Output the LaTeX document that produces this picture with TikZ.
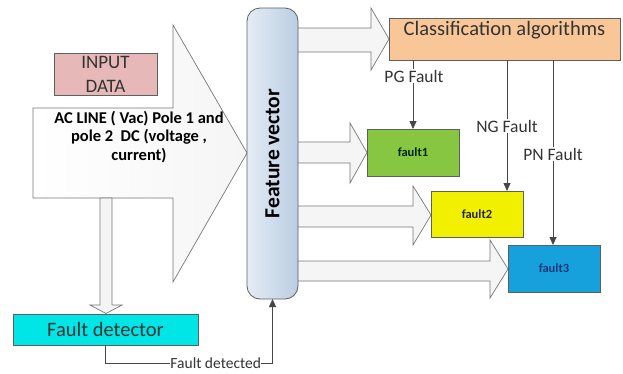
\documentclass[tikz,border=0pt]{standalone}
\usepackage{fontspec}
\setmainfont{Carlito}
\usetikzlibrary{arrows.meta,calc}
\definecolor{inpink}{RGB}{230,184,183}
\definecolor{clsorange}{RGB}{249,198,152}
\definecolor{fgreen}{RGB}{134,198,64}
\definecolor{fyellow}{RGB}{240,240,0}
\definecolor{fblue}{RGB}{22,160,220}
\definecolor{fcyan}{RGB}{0,230,230}
\definecolor{fvlight}{RGB}{228,236,245}
\definecolor{fvdark}{RGB}{186,205,226}
\definecolor{edgegray}{RGB}{95,95,95}
\definecolor{arrgray}{RGB}{120,120,120}
\definecolor{arrfill}{RGB}{245,245,245}
\definecolor{linegray}{RGB}{70,70,70}
\begin{document}
\begin{tikzpicture}[x=1pt,y=-1pt,
  box/.style={draw=edgegray,line width=0.8pt,inner sep=0pt,outer sep=0pt},
  blockarr/.style={draw=arrgray,line width=0.7pt,fill=arrfill,line join=miter},
  conn/.style={draw=linegray,line width=0.8pt,-{Triangle[length=8pt,width=7pt]}},
  lbl/.style={fill=white,inner sep=1pt,font=\fontsize{17.5}{19}\selectfont,text=black!80}]
\useasboundingbox (0,0) rectangle (623,373);
\fill[white] (0,0) rectangle (623,373);

% big input arrow
\path[blockarr,left color=white,right color=arrfill] (33,108) -- (173,108) -- (173,25) -- (247,153) -- (173,282) -- (173,198) -- (33,198) -- cycle;
\node[box,fill=inpink,minimum width=103pt,minimum height=42pt,align=center,
  font=\fontsize{19}{24}\selectfont,text=black!80] (inp) at (105.5,74) {INPUT\\DATA};
\node[align=center,font=\bfseries\fontsize{16.5}{18.5}\selectfont] (ac) at (139,137)
  {AC LINE ( Vac) Pole 1 and\\pole 2~~DC (voltage ,\\current)};

% down block arrow to fault detector
\path[blockarr] (100,198) -- (112,198) -- (112,305) -- (122,305) -- (106,313.5) -- (90,305) -- (100,305) -- cycle;

% fault detector
\node[box,fill=fcyan,minimum width=185pt,minimum height=31pt,
  font=\fontsize{20.5}{22}\selectfont,text=black!80] (fd) at (105.5,329.5) {Fault detector};

% block arrows to the right
\path[blockarr] (290,28) -- (371,28) -- (371,8) -- (389,39) -- (371,70) -- (371,52) -- (290,52) -- cycle;
\path[blockarr] (290,142) -- (350,142) -- (350,123) -- (367,152.5) -- (350,183) -- (350,163) -- (290,163) -- cycle;
\path[blockarr] (290,206) -- (413,206) -- (413,186) -- (431,215) -- (413,245) -- (413,227) -- (290,227) -- cycle;
\path[blockarr] (290,261) -- (490,261) -- (490,240) -- (508,269) -- (490,298) -- (490,281) -- (290,281) -- cycle;

% feature vector
\node[box,rounded corners=13pt,left color=fvlight,right color=fvdark,
  minimum width=51pt,minimum height=291pt] (fv) at (272.5,153.5) {};
\node[rotate=90,font=\bfseries\fontsize{21.5}{23}\selectfont] (fvt) at (fv.center) {Feature vector};

% classification
\node[box,fill=clsorange,minimum width=231pt,minimum height=42pt] (cls) at (504.5,39) {};
\node[font=\fontsize{20.5}{22}\selectfont,text=black!80] (clst) at ($(cls.north)+(0,12)$) {Classification algorithms};

% fault boxes
\node[box,fill=fgreen,minimum width=92pt,minimum height=47pt,
  font=\bfseries\fontsize{12.5}{14}\selectfont,text=black!85!green] (f1) at (413,152.5) {fault1};
\node[box,fill=fyellow,minimum width=92pt,minimum height=46pt,
  font=\bfseries\fontsize{12.5}{14}\selectfont,text=black!85] (f2) at (477,214) {fault2};
\node[box,fill=fblue,minimum width=92pt,minimum height=47pt,
  font=\bfseries\fontsize{12.5}{14}\selectfont,text={rgb,255:red,25;green,55;blue,120}] (f3) at (554,268.5) {fault3};

% classification outputs
\coordinate (pgx) at (413,0);
\coordinate (ngx) at (507,0);
\coordinate (pnx) at (553,0);
\draw[conn] (cls.south -| pgx) -- (f1.north -| pgx);
\draw[conn] (cls.south -| ngx) -- (f2.north -| ngx);
\draw[conn] (cls.south -| pnx) -- (f3.north -| pnx);
\node[lbl] (pgl) at (414,76) {PG Fault};
\node[lbl] (ngl) at (507,126) {NG Fault};
\node[lbl] (pnl) at (553,154) {PN Fault};

% fault detected feedback
\draw[conn] (fd.south) -- ++(0,18) -| node[pos=0.33,lbl,font=\fontsize{15.5}{17}\selectfont,inner sep=0pt] (fdl) {Fault detected} (fv.south);
\end{tikzpicture}
\end{document}
